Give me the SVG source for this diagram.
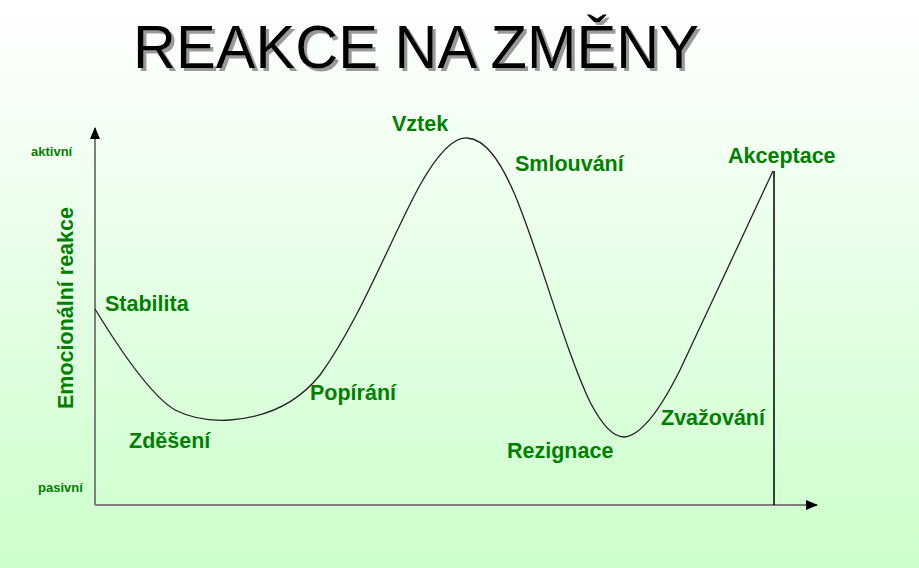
<svg xmlns="http://www.w3.org/2000/svg" width="919" height="568" viewBox="0 0 919 568">
  <defs>
    <linearGradient id="bg" x1="0" y1="0" x2="0" y2="1">
      <stop offset="0" stop-color="#ffffff"/>
      <stop offset="1" stop-color="#ccffcc"/>
    </linearGradient>
    <filter id="shadow" x="-5%" y="-20%" width="115%" height="150%">
      <feDropShadow dx="3" dy="3" stdDeviation="0.3" flood-color="#999999" flood-opacity="1"/>
    </filter>
    <marker id="arr" viewBox="0 0 12 10" refX="11" refY="5" markerWidth="12" markerHeight="10" markerUnits="userSpaceOnUse" orient="auto">
      <path d="M0,0 L12,5 L0,10 Z" fill="#000"/>
    </marker>
  </defs>
  <style>
    .title { font-family: "Liberation Sans", Arial, sans-serif; font-size: 62px; fill: #000; }
    .lbl { font-family: "Liberation Sans", Arial, sans-serif; font-size: 21.5px; font-weight: bold; fill: #008000; }
    .small { font-family: "Liberation Sans", Arial, sans-serif; font-size: 13px; font-weight: bold; fill: #008000; }
    .axis { stroke: #7f7f7f; stroke-width: 2; fill: none; }
    .curve { stroke: #222; stroke-width: 1.3; fill: none; }
  </style>
  <rect x="0" y="0" width="919" height="568" fill="url(#bg)"/>

  <g id="title">
    <text class="title" x="133" y="68" textLength="566" lengthAdjust="spacingAndGlyphs" filter="url(#shadow)">REAKCE NA ZMĚNY</text>
  </g>

  <g id="connectors">
    <line class="axis" x1="95" y1="505" x2="95" y2="128" marker-end="url(#arr)"/>
    <line class="axis" x1="95" y1="505" x2="817" y2="505" marker-end="url(#arr)"/>
    <line x1="774" y1="171" x2="774" y2="505" stroke="#000" stroke-width="1.5"/>
    <path class="curve" d="M95,309 C120,350 150,395 175,410 C195,420 215,421 230,420 C270,417 300,400 320,375 C360,320 390,240 420,185 C440,150 455,137 467,138 C485,139 500,160 515,195 C540,255 565,350 590,402 C602,425 613,437 624,437 C640,436 660,410 680,370 C710,307 745,230 773,171"/>
  </g>

  <g id="axis-labels">
    <text class="small" x="31" y="156">aktivní</text>
    <text class="small" x="38" y="492">pasivní</text>
    <text class="lbl" transform="translate(73,409) rotate(-90)">Emocionální reakce</text>
  </g>

  <g id="stabilita"><text class="lbl" x="105" y="311">Stabilita</text></g>
  <g id="zdeseni"><text class="lbl" x="129" y="448">Zděšení</text></g>
  <g id="popirani"><text class="lbl" x="310" y="400">Popírání</text></g>
  <g id="vztek"><text class="lbl" x="392" y="131">Vztek</text></g>
  <g id="smlouvani"><text class="lbl" x="515" y="171">Smlouvání</text></g>
  <g id="rezignace"><text class="lbl" x="507" y="458">Rezignace</text></g>
  <g id="zvazovani"><text class="lbl" x="661" y="425">Zvažování</text></g>
  <g id="akceptace"><text class="lbl" x="728" y="163">Akceptace</text></g>
</svg>
